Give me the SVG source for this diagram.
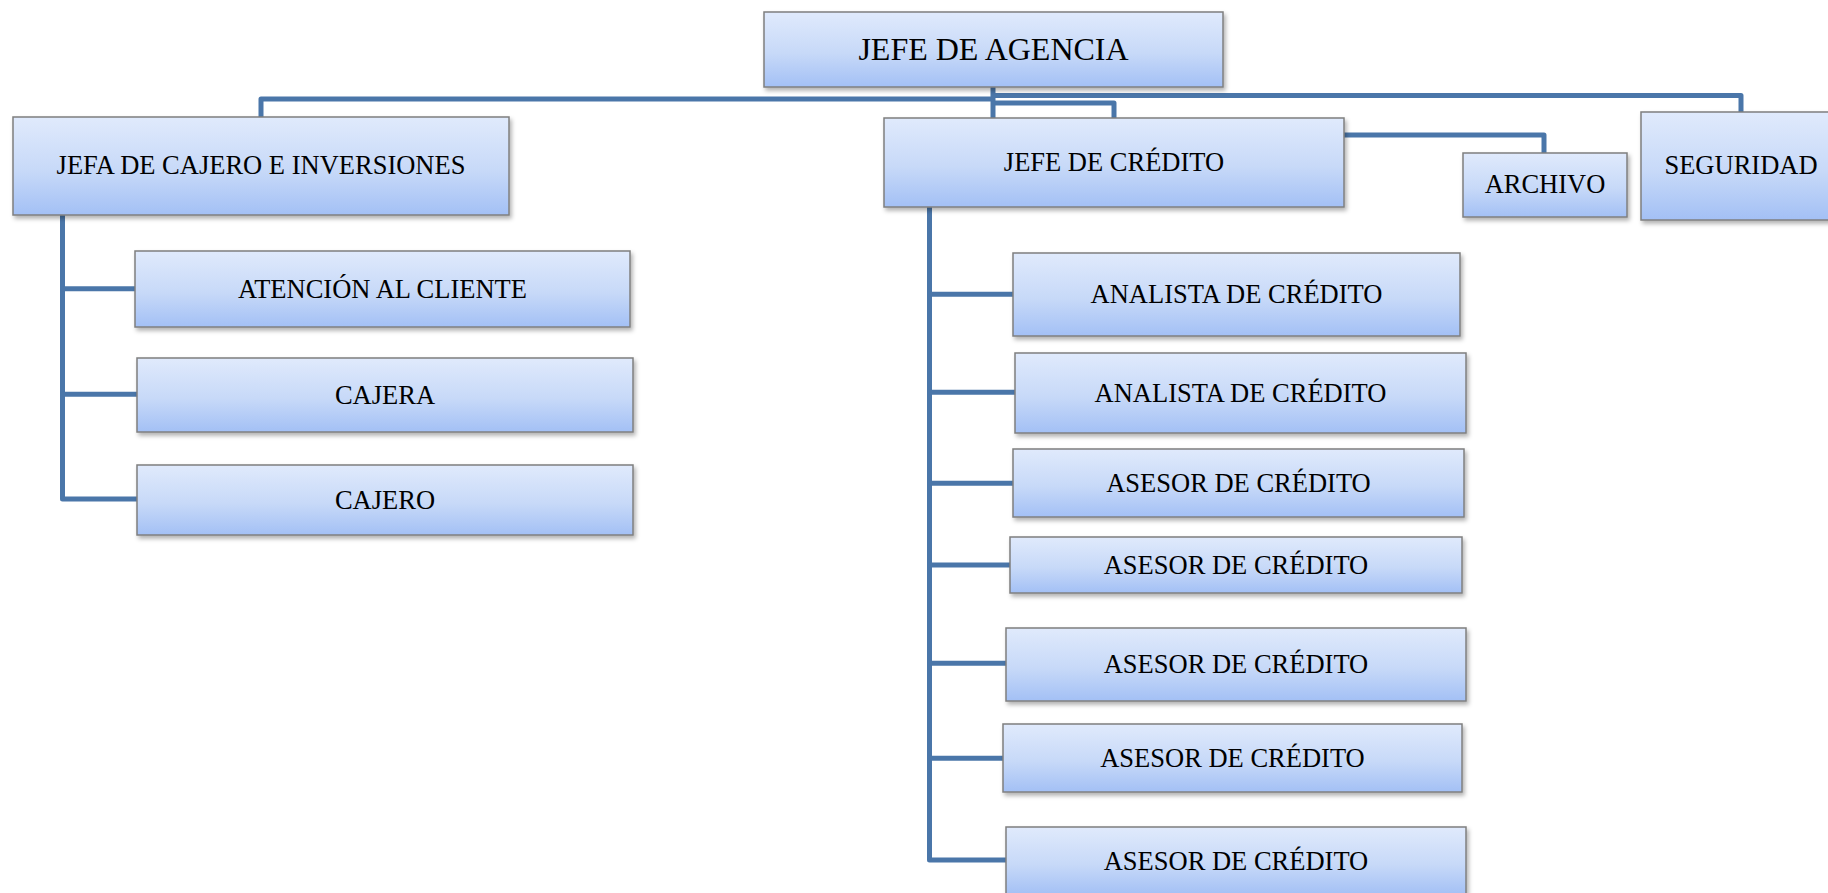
<svg xmlns="http://www.w3.org/2000/svg" width="1828" height="893" viewBox="0 0 1828 893">
  <defs>
    <linearGradient id="g" x1="0" y1="0" x2="0" y2="1">
      <stop offset="0" stop-color="#e0eafc"/>
      <stop offset="0.55" stop-color="#c7d9f8"/>
      <stop offset="1" stop-color="#a3c0f5"/>
    </linearGradient>
    <filter id="sh" x="-5%" y="-10%" width="115%" height="130%">
      <feDropShadow dx="2" dy="3" stdDeviation="2.2" flood-color="#000" flood-opacity="0.3"/>
    </filter>
  </defs>
  <style>
    .box { fill: url(#g); stroke: #7f7f7f; stroke-width: 1.5; filter: url(#sh); }
    .t { font-family: "Liberation Serif", "Times New Roman", serif; font-size: 26.5px; fill: #000; text-anchor: middle; }
    .big { font-size: 32px; }
    .c { fill: none; stroke: #4a76a9; stroke-width: 5; stroke-linejoin: round; }
  </style>
  <rect width="1828" height="893" fill="#fff"/>

  <g id="connectors">
    <path class="c" d="M993,86 V119"/>
    <path class="c" d="M993,99 H261 V118"/>
    <path class="c" d="M993,95.5 H1741 V113"/>
    <path class="c" d="M993,103 H1114 V119"/>
    <path class="c" d="M1343,135 H1544 V154"/>
    <path class="c" d="M62.5,215 V499 H138"/>
    <path class="c" d="M62.5,288.7 H136"/>
    <path class="c" d="M62.5,394.3 H138"/>
    <path class="c" d="M929.5,206 V860 H1007"/>
    <path class="c" d="M929.5,294.3 H1014"/>
    <path class="c" d="M929.5,392.3 H1016"/>
    <path class="c" d="M929.5,483.3 H1014"/>
    <path class="c" d="M929.5,565 H1011"/>
    <path class="c" d="M929.5,663.3 H1007"/>
    <path class="c" d="M929.5,758.3 H1004"/>
  </g>

  <g id="jefe-agencia">
    <rect class="box" x="764" y="12" width="459" height="75"/>
    <text class="t big" x="993.5" y="59.5">JEFE DE AGENCIA</text>
  </g>
  <g id="jefa-cajero">
    <rect class="box" x="13" y="117" width="496" height="98"/>
    <text class="t" x="261" y="173.5">JEFA DE CAJERO E INVERSIONES</text>
  </g>
  <g id="atencion">
    <rect class="box" x="135" y="251" width="495" height="76"/>
    <text class="t" x="382.5" y="297.7">ATENCIÓN AL CLIENTE</text>
  </g>
  <g id="cajera">
    <rect class="box" x="137" y="358" width="496" height="74"/>
    <text class="t" x="385" y="404">CAJERA</text>
  </g>
  <g id="cajero">
    <rect class="box" x="137" y="465" width="496" height="70"/>
    <text class="t" x="385" y="509">CAJERO</text>
  </g>
  <g id="jefe-credito">
    <rect class="box" x="884" y="118" width="460" height="89"/>
    <text class="t" x="1114" y="171">JEFE DE CRÉDITO</text>
  </g>
  <g id="archivo">
    <rect class="box" x="1463" y="153" width="164" height="64"/>
    <text class="t" x="1545" y="193">ARCHIVO</text>
  </g>
  <g id="seguridad">
    <rect class="box" x="1641" y="112" width="200" height="108"/>
    <text class="t" x="1741" y="174.3">SEGURIDAD</text>
  </g>
  <g id="analista-1">
    <rect class="box" x="1013" y="253" width="447" height="83"/>
    <text class="t" x="1236.5" y="303.3">ANALISTA DE CRÉDITO</text>
  </g>
  <g id="analista-2">
    <rect class="box" x="1015" y="353" width="451" height="80"/>
    <text class="t" x="1240.5" y="401.8">ANALISTA DE CRÉDITO</text>
  </g>
  <g id="asesor-1">
    <rect class="box" x="1013" y="449" width="451" height="68"/>
    <text class="t" x="1238.5" y="491.8">ASESOR DE CRÉDITO</text>
  </g>
  <g id="asesor-2">
    <rect class="box" x="1010" y="537" width="452" height="56"/>
    <text class="t" x="1236" y="573.8">ASESOR DE CRÉDITO</text>
  </g>
  <g id="asesor-3">
    <rect class="box" x="1006" y="628" width="460" height="73"/>
    <text class="t" x="1236" y="673.3">ASESOR DE CRÉDITO</text>
  </g>
  <g id="asesor-4">
    <rect class="box" x="1003" y="724" width="459" height="68"/>
    <text class="t" x="1232.5" y="766.8">ASESOR DE CRÉDITO</text>
  </g>
  <g id="asesor-5">
    <rect class="box" x="1006" y="827" width="460" height="68"/>
    <text class="t" x="1236" y="869.8">ASESOR DE CRÉDITO</text>
  </g>
</svg>
